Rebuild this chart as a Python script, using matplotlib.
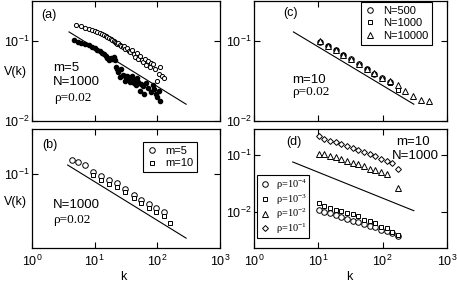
import numpy as np
import matplotlib
matplotlib.use("Agg")
import matplotlib.pyplot as plt
from matplotlib.ticker import LogLocator, NullLocator

plt.rcParams['font.family'] = ['Liberation Sans', 'DejaVu Sans']
plt.rcParams['font.size'] = 9

# ---- panel (a): m=5, N=1000, rho=0.02 ----
a_open_k = [5, 6, 7, 8, 9, 10, 11, 12, 13, 14, 15, 16, 17, 18, 19, 20, 21, 22, 23, 24,
            25, 26, 28, 29, 31, 33, 35, 37, 39, 42, 44, 47, 50, 53, 56, 60, 63, 67, 71,
            76, 80, 86, 92, 98, 105, 112, 120, 130]
a_open_v = [0.158, 0.152, 0.146, 0.141, 0.137, 0.133, 0.129, 0.125, 0.122, 0.118, 0.115,
            0.112, 0.109, 0.106, 0.103, 0.100, 0.098, 0.095, 0.091, 0.094, 0.088, 0.086,
            0.083, 0.087, 0.079, 0.082, 0.075, 0.072, 0.076, 0.068, 0.063, 0.070, 0.060,
            0.065, 0.057, 0.054, 0.060, 0.050, 0.056, 0.047, 0.053, 0.051, 0.044, 0.032,
            0.039, 0.047, 0.036, 0.034]
a_fill_k = [4.7, 5.5, 6, 7, 8, 9, 10, 11, 12, 13, 14, 15, 16, 17, 18, 19, 20, 21, 22, 23,
            24, 25, 26, 28, 30, 31, 33, 35, 37, 39, 41, 43, 45, 48, 50, 52, 55, 58, 62,
            66, 70, 78, 85, 90, 95, 100, 105, 110]
a_fill_v = [0.102, 0.098, 0.095, 0.092, 0.088, 0.085, 0.081, 0.078, 0.074, 0.071, 0.068,
            0.064, 0.061, 0.058, 0.062, 0.059, 0.063, 0.057, 0.047, 0.044, 0.041, 0.035,
            0.045, 0.038, 0.036, 0.032, 0.037, 0.034, 0.031, 0.036, 0.033, 0.030, 0.028,
            0.034, 0.031, 0.024, 0.029, 0.027, 0.022, 0.030, 0.026, 0.023, 0.028, 0.025,
            0.022, 0.020, 0.024, 0.018]

# ---- panel (b): N=1000, rho=0.02 ----
b_m5_k = [4.3, 5.4, 6.9, 9.3, 12.8, 16.9, 22.6, 31, 41.7, 55, 74, 95, 126]
b_m5_v = [0.150, 0.140, 0.130, 0.107, 0.094, 0.084, 0.0766, 0.065, 0.0546, 0.047, 0.042,
          0.0376, 0.0335]
b_m10_k = [9.3, 12.8, 16.9, 22.6, 31, 41.7, 55, 74, 95, 126, 160]
b_m10_v = [0.097, 0.085, 0.076, 0.069, 0.059, 0.050, 0.043, 0.038, 0.034, 0.030, 0.0242]

# ---- panel (c): m=10, rho=0.02 ----
c_k = [10.6, 14.0, 18.5, 24.4, 32.3, 42.6, 56.2, 74.3, 98.1, 129.5, 171, 226, 298, 394, 520]
c_n500_v = [0.098, 0.0866, 0.0766, 0.0668, 0.059, 0.051, 0.0443, 0.039, 0.0342, 0.0309]
c_n1000_v = [0.097, 0.0858, 0.0760, 0.0662, 0.0585, 0.0506, 0.0440, 0.0387, 0.0338, 0.0302,
             0.0242]
c_n10000_v = [0.099, 0.0872, 0.0772, 0.0674, 0.0595, 0.0515, 0.0447, 0.0394, 0.0346, 0.0318,
              0.0279, 0.0237, 0.0205, 0.0183, 0.0178]

# ---- panel (d): m=10, N=1000 ----
d_k = [10.1, 12.4, 15.2, 18.6, 22.8, 27.9, 34.2, 41.9, 51.4, 62.9, 77.1, 94.4, 115.7, 141.8,
       173.8]
d_rho4_v = [0.01086, 0.00989, 0.00948, 0.00883, 0.00791, 0.00750, 0.00690, 0.00655, 0.00603,
            0.00569, 0.00546, 0.00478, 0.00458, 0.00417, 0.00378]
d_rho3_v = [0.01429, 0.01245, 0.01164, 0.01086, 0.01012, 0.00948, 0.00910, 0.00824, 0.00719,
            0.00690, 0.00628, 0.00546, 0.00512, 0.00445, 0.00388]
d_rho2_k = [10.1, 12.4, 15.2, 18.6, 22.8, 27.9, 34.2, 41.9, 51.4, 62.9, 77.1, 94.4, 115.7,
            173.8]
d_rho2_v = [0.107, 0.104, 0.0972, 0.0921, 0.0849, 0.0791, 0.0741, 0.0690, 0.0644, 0.0579,
            0.0546, 0.0504, 0.0458, 0.0265]
d_rho1_v = [0.216, 0.193, 0.180, 0.169, 0.157, 0.143, 0.133, 0.124, 0.112, 0.104, 0.0972,
            0.0873, 0.0791, 0.0741, 0.0579]

# reference lines (slope about -1/2), given by their end points
guide_a_k, guide_a_v = [3.9, 288], [0.1296, 0.0162]
guide_b_k, guide_b_v = [3.7, 288], [0.1296, 0.0158]
guide_c_k, guide_c_v = [4.1, 305], [0.1296, 0.0162]
guide_d_k, guide_d_v = [4.0, 305], [0.0759, 0.0104]

W, H = 457, 284
fig = plt.figure(figsize=(W / 100, H / 100), dpi=100)


def px_axes(x0, x1, top, bot):
    return fig.add_axes([x0 / W, 1 - bot / H, (x1 - x0) / W, (bot - top) / H])


def style(ax, ylim, xlabels):
    ax.set_xscale('log')
    ax.set_yscale('log')
    ax.set_xlim(1, 1000)
    ax.set_ylim(*ylim)
    ax.xaxis.set_major_locator(LogLocator(base=10, numticks=10))
    ax.yaxis.set_major_locator(LogLocator(base=10, numticks=10))
    ax.xaxis.set_minor_locator(NullLocator())
    ax.yaxis.set_minor_locator(NullLocator())
    ax.tick_params(which='major', direction='in', length=4.5, width=0.8,
                   top=True, right=True, labelsize=9)
    ax.tick_params(axis='y', pad=2)
    ax.tick_params(axis='x', pad=4)
    if not xlabels:
        ax.tick_params(labelbottom=False)
    for s in ax.spines.values():
        s.set_linewidth(0.9)


def txt(x, y, s, **kw):
    fig.text(x / W, 1 - y / H, s, ha='left', va='center', **kw)


ax_a = px_axes(32, 220, 0.5, 121)
ax_b = px_axes(32, 220, 129, 248)
ax_c = px_axes(254, 447, 0.5, 121)
ax_d = px_axes(254, 447, 129, 248)

style(ax_a, (0.01, 0.32), False)
style(ax_b, (0.0119, 0.365), True)
style(ax_c, (0.01, 0.32), False)
style(ax_d, (0.002275, 0.291), True)

mk = dict(ls='none', color='black', mfc='white', mew=0.7)
leg_kw = dict(fontsize=8, frameon=True, fancybox=False, edgecolor='black', framealpha=1,
              borderpad=0.35, handlelength=0.9, handletextpad=0.7, labelspacing=0.25,
              borderaxespad=0, numpoints=1)

# (a)
ax_a.plot(a_open_k, a_open_v, marker='o', ms=3, **mk)
ax_a.plot(a_fill_k, a_fill_v, ls='none', marker='o', ms=3, color='black')
ax_a.plot(guide_a_k, guide_a_v, color='black', lw=0.8)

# (b)
ax_b.plot(b_m5_k, b_m5_v, marker='o', ms=4, label='m=5', **mk)
ax_b.plot(b_m10_k, b_m10_v, marker='s', ms=3.5, label='m=10', **mk)
ax_b.plot(guide_b_k, guide_b_v, color='black', lw=0.8)
leg = ax_b.legend(loc='upper left', bbox_to_anchor=(0.592, 0.893), **leg_kw)
leg.get_frame().set_linewidth(0.8)

# (c)
ax_c.plot(c_k[:len(c_n500_v)], c_n500_v, marker='o', ms=4, label='N=500', **mk)
ax_c.plot(c_k[:len(c_n1000_v)], c_n1000_v, marker='s', ms=3.5, label='N=1000', **mk)
ax_c.plot(c_k[:len(c_n10000_v)], c_n10000_v, marker='^', ms=4, label='N=10000', **mk)
ax_c.plot(guide_c_k, guide_c_v, color='black', lw=0.8)
leg = ax_c.legend(loc='upper left', bbox_to_anchor=(0.556, 0.99), **leg_kw)
leg.get_frame().set_linewidth(0.8)

# (d)
ax_d.plot(d_k, d_rho4_v, marker='o', ms=4, label=r'ρ=$\mathdefault{10^{-4}}$', **mk)
ax_d.plot(d_k, d_rho3_v, marker='s', ms=3.5, label=r'ρ=$\mathdefault{10^{-3}}$', **mk)
ax_d.plot(d_rho2_k, d_rho2_v, marker='^', ms=4, label=r'ρ=$\mathdefault{10^{-2}}$', **mk)
ax_d.plot(d_k, d_rho1_v, marker='D', ms=3, label=r'ρ=$\mathdefault{10^{-1}}$', **mk)
ax_d.plot(guide_d_k, guide_d_v, color='black', lw=0.8)
dkw = dict(leg_kw)
dkw.pop('fontsize')
dkw.update(labelspacing=0.02, borderpad=0.25, handletextpad=0.6)
leg = ax_d.legend(loc='upper left', bbox_to_anchor=(0.017, 0.613),
                  prop={'family': 'Liberation Serif', 'size': 7.5}, **dkw)
leg.get_frame().set_linewidth(0.8)

# panel annotations
serif = dict(family='Liberation Serif', fontsize=9.5)
txt(41.5, 15, '(a)', fontsize=9)
txt(53, 68, 'm=5', fontsize=9.5)
txt(53, 82, 'N=1000', fontsize=9.5)
txt(54, 98, 'ρ=0.02', **serif)
txt(4, 72, 'V(k)', fontsize=9)

txt(42.5, 145, '(b)', fontsize=9)
txt(53, 205, 'N=1000', fontsize=9.5)
txt(53, 220, 'ρ=0.02', **serif)
txt(4, 202, 'V(k)', fontsize=9)

txt(283, 13, '(c)', fontsize=9)
txt(292, 80, 'm=10', fontsize=9.5)
txt(292, 92, 'ρ=0.02', **serif)

txt(286, 142, '(d)', fontsize=9)
fig.text(430 / W, 1 - 142 / H, 'm=10', ha='right', va='center', fontsize=9.5)
fig.text(439 / W, 1 - 156 / H, 'N=1000', ha='right', va='center', fontsize=9.5)

fig.text(123 / W, 1 - 277 / H, 'k', ha='center', va='center', fontsize=9)
fig.text(349 / W, 1 - 277 / H, 'k', ha='center', va='center', fontsize=9)

fig.savefig('out.png', dpi=100)
